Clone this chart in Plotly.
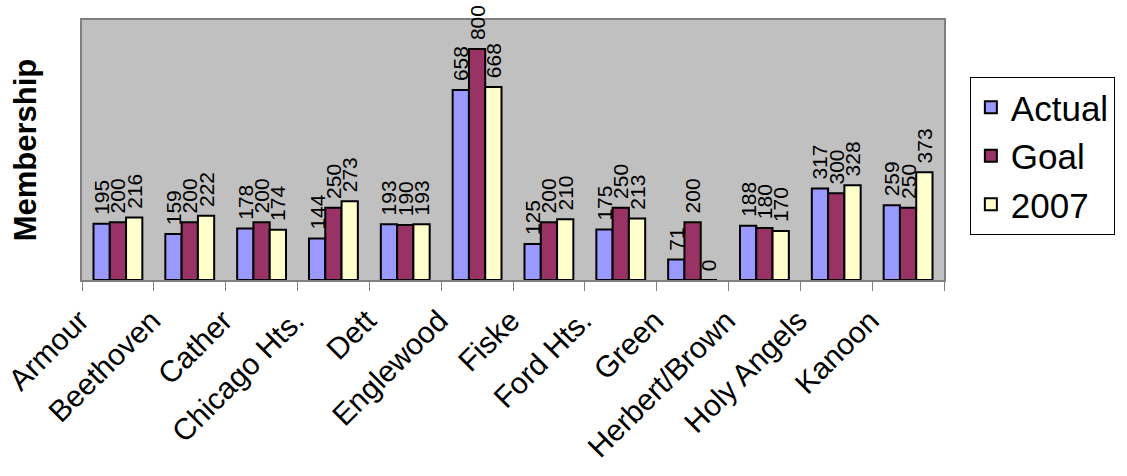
import plotly.graph_objects as go

schools = ["Armour", "Beethoven", "Cather", "Chicago Hts.", "Dett", "Englewood",
           "Fiske", "Ford Hts.", "Green", "Herbert/Brown", "Holy Angels", "Kanoon"]
actual = [195, 159, 178, 144, 193, 658, 125, 175, 71, 188, 317, 259]
goal = [200, 200, 200, 250, 190, 800, 200, 250, 200, 180, 300, 250]
y2007 = [216, 222, 174, 273, 193, 668, 210, 213, 0, 170, 328, 373]

series = [("Actual", actual, "#9999FF"), ("Goal", goal, "#993366"), ("2007", y2007, "#FFFFCC")]

fig = go.Figure()
for i, (name, vals, color) in enumerate(series):
    fig.add_trace(go.Bar(
        x=schools, y=vals, name=name, legendgroup=name,
        marker=dict(color=color, line=dict(color="black", width=2)),
        texttemplate="\u00a0%{y}", textposition="outside", textangle=-90,
        textfont=dict(family="Liberation Sans, Arial", size=21, color="black"),
        constraintext="none", cliponaxis=False,
    ))

fig.update_layout(
    width=1127, height=476,
    margin=dict(l=82, r=181, t=20, b=196),
    paper_bgcolor="white", plot_bgcolor="#C0C0C0",
    barmode="group", bargap=0.32, bargroupgap=0,
    font=dict(family="Liberation Sans, Arial", color="black"),
    showlegend=True,
    legend=dict(x=1.03, y=0.781, xanchor="left", yanchor="top",
                bgcolor="white", bordercolor="black", borderwidth=1,
                font=dict(size=35, color="black"), traceorder="grouped",
                tracegroupgap=0, itemsizing="constant"),
    xaxis=dict(tickangle=-45, tickson="boundaries", ticks="outside", ticklen=9,
               tickcolor="#808080", tickwidth=1, showline=True, linecolor="#808080",
               linewidth=2, mirror=True, showgrid=False, automargin=False,
               layer="below traces",
               tickfont=dict(size=30, color="black"), ticklabelshift=-38,
               ticklabelstandoff=9),
    yaxis=dict(range=[0, 900], showticklabels=False, ticks="", showgrid=False,
               showline=True, linecolor="#808080", linewidth=2, mirror=True,
               zeroline=False, automargin=False, layer="below traces",
               title=dict(text="<b>Membership</b>", font=dict(size=31, color="black"), standoff=34)),
)

fig.write_html("out.html", config={"displayModeBar": False},
               post_script="document.body.style.margin='0';document.body.style.padding='0';")
